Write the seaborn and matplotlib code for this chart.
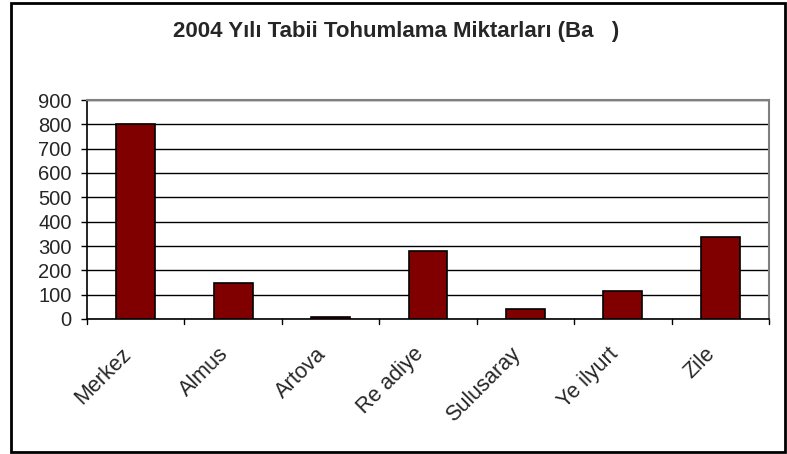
import matplotlib
matplotlib.use("Agg")
import matplotlib.pyplot as plt
import matplotlib.transforms as mtransforms
import seaborn as sns
import pandas as pd
from matplotlib.patches import Rectangle

categories = ["Merkez", "Almus", "Artova", "Re adiye", "Sulusaray", "Ye ilyurt", "Zile"]
values = [800, 150, 8, 280, 42, 115, 338]
yticks = [0, 100, 200, 300, 400, 500, 600, 700, 800, 900]
title = "2004 Yılı Tabii Tohumlama Miktarları (Ba   )"


def main():
    sns.set_style("white")
    plt.rcParams["font.family"] = ["Liberation Sans", "DejaVu Sans"]

    df = pd.DataFrame({"ilce": categories, "miktar": values})

    fig = plt.figure(figsize=(7.87, 4.54), dpi=100)
    ax = fig.add_axes([87 / 787, 1 - 319 / 454, (769 - 87) / 787, (319 - 100) / 454])

    sns.barplot(data=df, x="ilce", y="miktar", color="#800000", width=0.4,
                edgecolor="black", linewidth=1.2, saturation=1, ax=ax, zorder=3)

    ax.set_ylim(0, 900)
    ax.set_xlim(-0.5, len(categories) - 0.5)
    ax.set_yticks(yticks)
    ax.set_yticklabels([str(t) for t in yticks], fontsize=14.5)
    ax.yaxis.grid(True, color="black", linewidth=1.0, zorder=0)
    ax.set_axisbelow(True)

    # category labels, rotated, with ticks on category boundaries
    ax.set_xticks(range(len(categories)))
    ax.set_xticklabels(categories, rotation=45, ha="right", va="center",
                       rotation_mode="anchor", fontsize=15.5)
    ax.tick_params(axis="x", length=0, pad=23)
    shift = mtransforms.ScaledTranslation(-8 / 100, 0, fig.dpi_scale_trans)
    for lbl in ax.get_xticklabels():
        lbl.set_transform(lbl.get_transform() + shift)
    for b in [i - 0.5 for i in range(len(categories) + 1)]:
        ax.plot([b, b], [0, -0.025], transform=ax.get_xaxis_transform(),
                color="black", linewidth=1.0, clip_on=False)
    ax.tick_params(axis="y", length=4, width=1.0, color="black", left=True, pad=7)

    for side in ["left", "bottom"]:
        ax.spines[side].set_color("black")
        ax.spines[side].set_linewidth(1.2)
    for side in ["top", "right"]:
        ax.spines[side].set_color("#808080")
        ax.spines[side].set_linewidth(1.5)

    ax.set_xlabel("")
    ax.set_ylabel("")

    fig.text(396 / 787, 1 - 31 / 454, title, ha="center", va="center",
             fontsize=16, fontweight="bold")

    fig.patches.append(Rectangle((11 / 787, 2 / 454), 774 / 787, 449 / 454,
                                 transform=fig.transFigure, fill=False,
                                 edgecolor="black", linewidth=2))

    fig.savefig("out.png", dpi=100)
    plt.close(fig)


if __name__ == "__main__":
    main()
